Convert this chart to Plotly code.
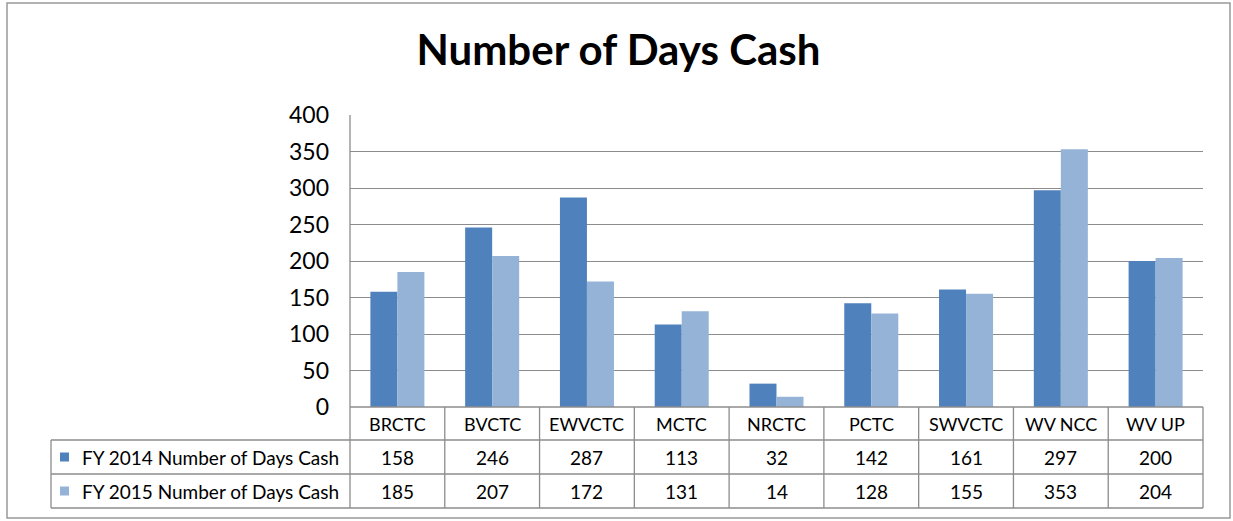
import plotly.graph_objects as go

categories = ["BRCTC", "BVCTC", "EWVCTC", "MCTC", "NRCTC", "PCTC", "SWVCTC", "WV NCC", "WV UP"]
fy2014 = [158, 246, 287, 113, 32, 142, 161, 297, 200]
fy2015 = [185, 207, 172, 131, 14, 128, 155, 353, 204]
series_names = ["FY 2014 Number of Days Cash", "FY 2015 Number of Days Cash"]
y_ticks = [0, 50, 100, 150, 200, 250, 300, 350, 400]

W, H = 1233, 521
L, R, T, B = 350, 1203, 115, 407
FONT = "Lato"
GRID = "#8c8c8c"
COLORS = ["#4F81BD", "#95B3D7"]


def px(x):
    return (x - L) / (R - L)


def py(y):
    return (B - y) / (B - T)


fig = go.Figure()
for name, vals, col in zip(series_names, [fy2014, fy2015], COLORS):
    fig.add_trace(go.Bar(x=categories, y=vals, name=name, marker=dict(color=col, line=dict(width=0))))

shapes = []
ann = []

def line(x0, y0, x1, y1, color=GRID, w=1.3):
    shapes.append(dict(type="line", xref="paper", yref="paper", x0=px(x0), y0=py(y0),
                       x1=px(x1), y1=py(y1), line=dict(color=color, width=w)))

# outer chart border
shapes.append(dict(type="rect", xref="paper", yref="paper", x0=px(7), y0=py(3), x1=px(1230), y1=py(518),
                   line=dict(color="#999999", width=1.5), layer="below"))

rows_y = [407, 440, 474, 508]
# table horizontal lines
line(L, 407, R, 407)
line(51, 440, R, 440)
line(51, 474, R, 474)
line(51, 508, R, 508)
# verticals
line(L, 115, L, 508)
line(51, 440, 51, 508)
ncat = len(categories)
for i in range(1, ncat + 1):
    xb = L + (R - L) * i / ncat
    line(xb, 407, xb, 508)

# category labels and values
for i, c in enumerate(categories):
    ann.append(dict(x=c, y=py(423.5), xref="x", yref="paper", text=c, showarrow=False,
                    font=dict(family=FONT, size=18, color="#000"), xanchor="center", yanchor="middle"))
    for j, vals in enumerate([fy2014, fy2015]):
        ann.append(dict(x=c, y=py((rows_y[j + 1] + rows_y[j + 2]) / 2), xref="x", yref="paper",
                        text=str(vals[i]), showarrow=False,
                        font=dict(family=FONT, size=19, color="#000"), xanchor="center", yanchor="middle"))

# legend keys in table
for j, (name, col) in enumerate(zip(series_names, COLORS)):
    yc = (rows_y[j + 1] + rows_y[j + 2]) / 2
    shapes.append(dict(type="rect", xref="paper", yref="paper", x0=px(60), x1=px(69),
                       y0=py(yc - 4.5), y1=py(yc + 4.5), line=dict(width=0), fillcolor=col))
    ann.append(dict(x=px(80), y=py(yc), xref="paper", yref="paper", text=name, showarrow=False,
                    font=dict(family=FONT, size=19, color="#000"), xanchor="left", yanchor="middle"))

fig.update_layout(
    width=W, height=H,
    margin=dict(l=L, r=W - R, t=T, b=H - B),
    paper_bgcolor="white", plot_bgcolor="white",
    barmode="group", bargap=0.43, bargroupgap=0,
    showlegend=False,
    title=dict(text="<b>Number of Days Cash</b>", x=px(618.5), xref="paper", xanchor="center",
               y=1 - 50 / H, yref="container", yanchor="middle",
               font=dict(family=FONT, size=42, color="#000")),
    xaxis=dict(showticklabels=False, showgrid=False, zeroline=False, showline=False, ticks=""),
    yaxis=dict(range=[0, 400], tickvals=y_ticks, showgrid=True, gridcolor=GRID, gridwidth=1.3,
               zeroline=False, showline=False, ticks="", ticklabelstandoff=20,
               tickfont=dict(family=FONT, size=23, color="#000")),
    shapes=shapes, annotations=ann,
)

fig.write_html("out.html")
